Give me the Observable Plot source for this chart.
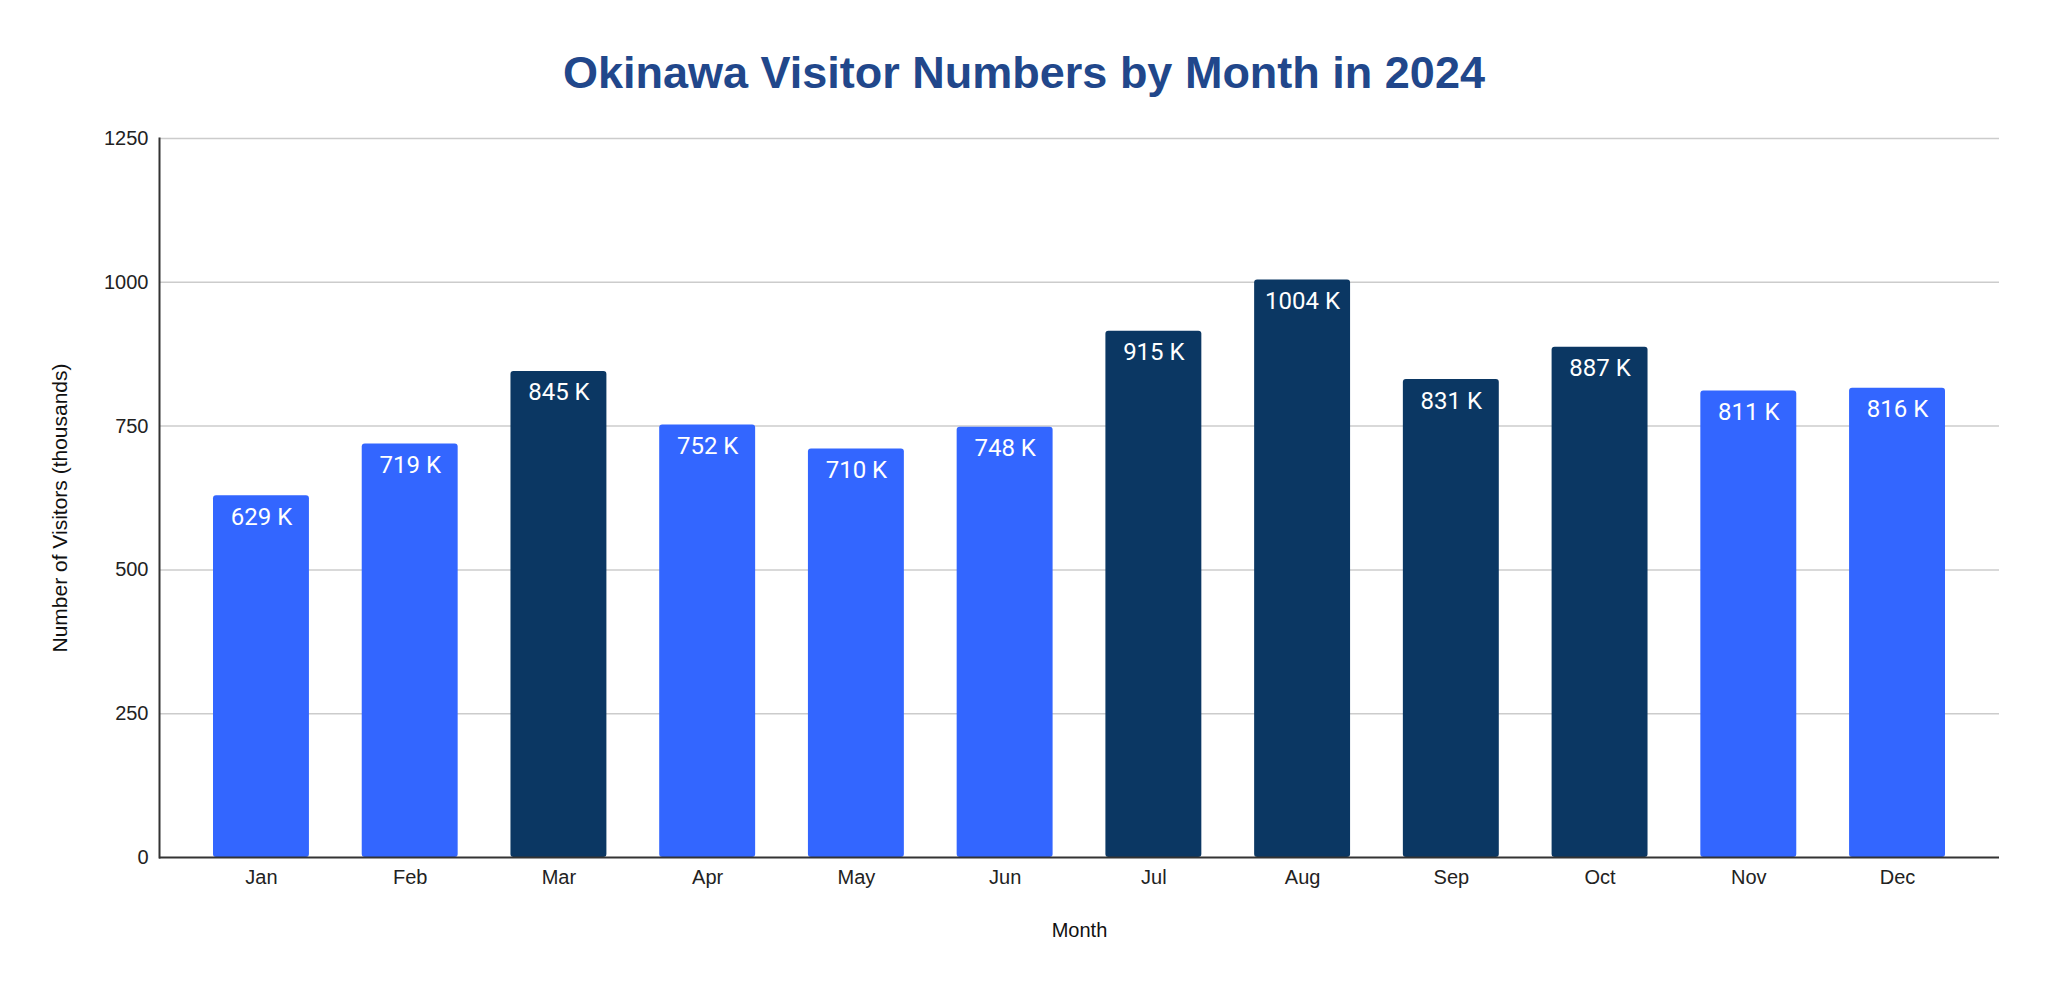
<!DOCTYPE html>
<html>
<head>
<meta charset="utf-8">
<script src="https://cdn.jsdelivr.net/npm/d3@7"></script>
<script src="https://cdn.jsdelivr.net/npm/@observablehq/plot@0.6"></script>
<style>
  html, body { margin: 0; padding: 0; background: #fff; }
  #title {
    width: 2048px; height: 110px; box-sizing: border-box; padding-top: 50px;
    text-align: center; font: bold 45px/45px "Liberation Sans", Arial, sans-serif;
    color: #21478b;
  }
</style>
</head>
<body>
<div id="title">Okinawa Visitor Numbers by Month in 2024</div>
<div id="chart"></div>
<script>
const months = ["Jan","Feb","Mar","Apr","May","Jun","Jul","Aug","Sep","Oct","Nov","Dec"];
const visitors = [629, 719, 845, 752, 710, 748, 915, 1004, 831, 887, 811, 816];
const season = ["Regular","Regular","Peak","Regular","Regular","Regular","Peak","Peak","Peak","Peak","Regular","Regular"];
const yTicks = [0, 250, 500, 750, 1000, 1250];

const data = months.map((m, i) => ({month: m, value: visitors[i], season: season[i]}));

const chart = Plot.plot({
  width: 2048,
  height: 880,
  marginTop: 28,
  marginBottom: 133,
  marginLeft: 159,
  marginRight: 49,
  insetLeft: 54,
  insetRight: 54,
  style: {fontFamily: "'Liberation Sans', Arial, sans-serif", fontSize: "20px", color: "#222", background: "#fff"},
  x: {domain: months, paddingInner: 0.355, paddingOuter: 0, round: false, label: null},
  y: {domain: [0, 1250], label: null},
  color: {domain: ["Regular", "Peak"], range: ["#3366ff", "#0b3763"]},
  marks: [
    Plot.ruleY(yTicks.filter(d => d > 0), {stroke: "#cccccc", strokeWidth: 1.5}),
    Plot.barY(data, {x: "month", y: "value", fill: "season", rx: 3}),
    Plot.text(data, {
      x: "month", y: "value", text: d => `${d.value} K`, fill: "white",
      lineAnchor: "bottom", dy: 29, fontSize: 24, fontWeight: 400,
      fontFamily: "Roboto, sans-serif"
    }),
    Plot.axisY({ticks: yTicks, tickFormat: d => String(d), tickSize: 0, tickPadding: 11, label: null, fontSize: 20}),
    Plot.axisX({tickSize: 0, tickPadding: 12, label: null, fontSize: 20}),
    Plot.ruleY([0], {stroke: "#333", strokeWidth: 2}),
    Plot.frame({anchor: "left", stroke: "#333", strokeWidth: 2}),
    Plot.text(["Number of Visitors (thousands)"], {
      frameAnchor: "left", textAnchor: "middle", dx: -99, dy: 10, rotate: -90, lineAnchor: "middle",
      fontSize: 21, fill: "#111"
    }),
    Plot.text(["Month"], {
      frameAnchor: "bottom", textAnchor: "middle", dy: 73, lineAnchor: "middle", fontSize: 20, fill: "#111"
    })
  ]
});
document.getElementById("chart").appendChild(chart);
</script>
</body>
</html>
